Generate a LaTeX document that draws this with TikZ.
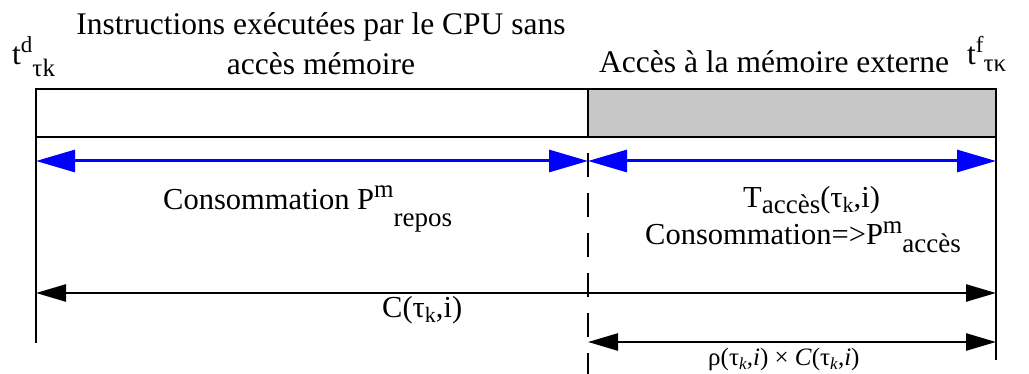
\documentclass[tikz,border=0pt]{standalone}
\usepackage{fontspec}
\setmainfont{Liberation Serif}
\usetikzlibrary{arrows.meta}
\newcommand\shiftt[3]{\raisebox{#1}{\fontsize{#2}{#2}\selectfont #3}}
\begin{document}
\begin{tikzpicture}[x=1pt,y=-1pt,
  lbl/.style={inner sep=0pt,font=\fontsize{31.5}{36}\selectfont},
  mid/.style={inner sep=0pt,font=\fontsize{30.5}{36}\selectfont},
  small/.style={inner sep=0pt,font=\fontsize{25}{28}\selectfont},
  frame/.style={line width=2.6pt,black},
  bluearr/.style={line width=3pt,blue,{Triangle[length=39pt,width=22pt]}-{Triangle[length=39pt,width=22pt]}},
  blkarr/.style={line width=2.6pt,black,{Triangle[length=30pt,width=17pt]}-{Triangle[length=30pt,width=17pt]}},
]
\useasboundingbox (0,0) rectangle (1029,374);
% frame coordinates
\coordinate (tl) at (36,89);
\coordinate (tm) at (588,89);
\coordinate (tr) at (996,89);
\coordinate (bl) at (36,137);
\coordinate (bm) at (588,137);
\coordinate (br) at (996,137);
\coordinate (lend) at (36,343);
\coordinate (rend) at (996,360);
\coordinate (dtop) at (588,153);
\coordinate (dbot) at (588,374);
% arrow ends
\coordinate (a1) at (36,161);
\coordinate (a2) at (588,161);
\coordinate (a3) at (996,161);
\coordinate (c1) at (36,293);
\coordinate (c2) at (996,293);
\coordinate (d1) at (588,342);
\coordinate (d2) at (996,342);

\fill[black!22] (tm) rectangle (br);
\draw[frame] (tl) rectangle (br);
\draw[frame] (tm) -- (bm);
\draw[frame] (bl) -- (lend);
\draw[frame] (br) -- (rend);
\draw[line width=2.6pt,dash pattern=on 24pt off 16pt] (dtop) -- (dbot);

\draw[bluearr] (a1) -- (a2);
\draw[bluearr] (a2) -- (a3);
\draw[blkarr] (c1) -- (c2);
\draw[blkarr] (d1) -- (d2);

% texts
\node[lbl,anchor=base] (instr1) at (321,35) {Instructions exécutées par le CPU sans};
\node[lbl,anchor=base] (instr2) at (321,75) {accès mémoire};
\node[lbl,anchor=base west] (ext) at (599,73) {Accès à la mémoire externe};
\node[lbl,anchor=base west] (td) at (12,65) {t\shiftt{12pt}{23}{d}\shiftt{-12pt}{25}{τk}};
\node[lbl,anchor=base west] (tf) at (967,65) {t\shiftt{12pt}{23}{f}\shiftt{-7pt}{25}{τκ}};
\node[mid,anchor=base west] (repos) at (163,210) {Consommation P\shiftt{12pt}{25}{m}\shiftt{-17pt}{27}{repos}};
\node[mid,anchor=base west] (tacc) at (743,208) {T\shiftt{-6pt}{27}{accès}(τ\shiftt{-5pt}{22}{k},i)};
\node[mid,anchor=base west] (pacc) at (645,245) {Consommation=>P\shiftt{11pt}{25}{m}\shiftt{-8pt}{27}{accès}};
\node[mid,anchor=base west] (ctk) at (382,318) {C(τ\shiftt{-5pt}{22}{k},i)};
\node[small,anchor=base west] (rho) at (708,365) {ρ(τ\shiftt{-4pt}{17}{\textit{k}},\textit{i}) × \textit{C}(τ\shiftt{-4pt}{17}{\textit{k}},\textit{i})};
\end{tikzpicture}
\end{document}
